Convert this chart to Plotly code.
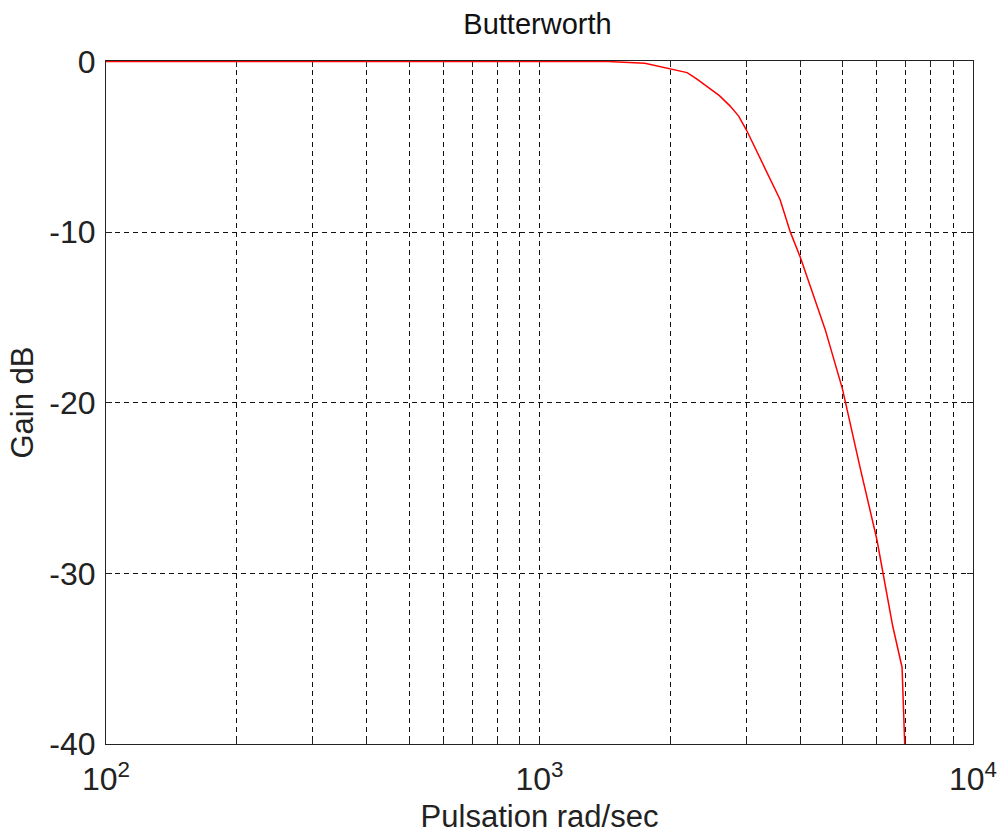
import plotly.graph_objects as go

# Data
pulsation = [100, 1000, 1440, 1750, 1900, 2000, 2190, 2300, 2450, 2600, 2750, 2880,
             3000, 3280, 3590, 3790, 4000, 4560, 5000, 5490, 6000, 6530, 6860, 6980]
gain_db = [0, 0, 0, -0.1, -0.3, -0.43, -0.65, -1.0, -1.5, -2.0, -2.6, -3.2,
           -4.0, -6.0, -8.1, -10.0, -11.5, -15.7, -19.2, -23.8, -28.0, -33.1, -35.5, -41.0]

x_tickvals = [100, 200, 300, 400, 500, 600, 700, 800, 900,
              1000, 2000, 3000, 4000, 5000, 6000, 7000, 8000, 9000, 10000]
x_ticktext = ["10<sup>2</sup>"] + [""] * 8 + ["10<sup>3</sup>"] + [""] * 8 + ["10<sup>4</sup>"]
y_tickvals = [0, -10, -20, -30, -40]
y_ticktext = ["0", "-10", "-20", "-30", "-40"]

FONT = "Liberation Sans, Arial, sans-serif"

fig = go.Figure()
fig.add_trace(go.Scatter(x=pulsation, y=gain_db, mode="lines",
                         line=dict(color="#ff0000", width=1.5),
                         showlegend=False))

fig.update_layout(
    width=999, height=834,
    margin=dict(l=106, r=26, t=61, b=90),
    paper_bgcolor="white", plot_bgcolor="white",
    font=dict(family=FONT, color="#222222", size=31),
    title=dict(text="Butterworth", x=0.538, xanchor="center", y=0.972, yanchor="middle",
               font=dict(size=29, family=FONT, color="#111111")),
)
fig.update_xaxes(
    type="log", range=[2, 4], automargin=False,
    tickvals=x_tickvals, ticktext=x_ticktext,
    ticks="inside", ticklen=6, tickcolor="#222222", tickwidth=1,
    showline=True, linecolor="#222222", linewidth=1, mirror="ticks",
    showgrid=True, gridcolor="#111111", gridwidth=1, griddash="5px,4px",
    zeroline=False, layer="below traces",
    tickfont=dict(size=32, family=FONT), ticklabelstandoff=7,
    title=dict(text="Pulsation rad/sec", font=dict(size=31, family=FONT), standoff=10),
)
fig.update_yaxes(
    range=[-40, 0.03], automargin=False,
    tickvals=y_tickvals, ticktext=y_ticktext,
    ticks="inside", ticklen=6, tickcolor="#222222", tickwidth=1,
    showline=True, linecolor="#222222", linewidth=1, mirror="ticks",
    showgrid=True, gridcolor="#111111", gridwidth=1, griddash="5px,4px",
    zeroline=False, layer="below traces",
    tickfont=dict(size=32, family=FONT), ticklabelstandoff=3,
    title=dict(text="Gain dB", font=dict(size=31, family=FONT), standoff=6),
)

fig.write_html("out.html")
